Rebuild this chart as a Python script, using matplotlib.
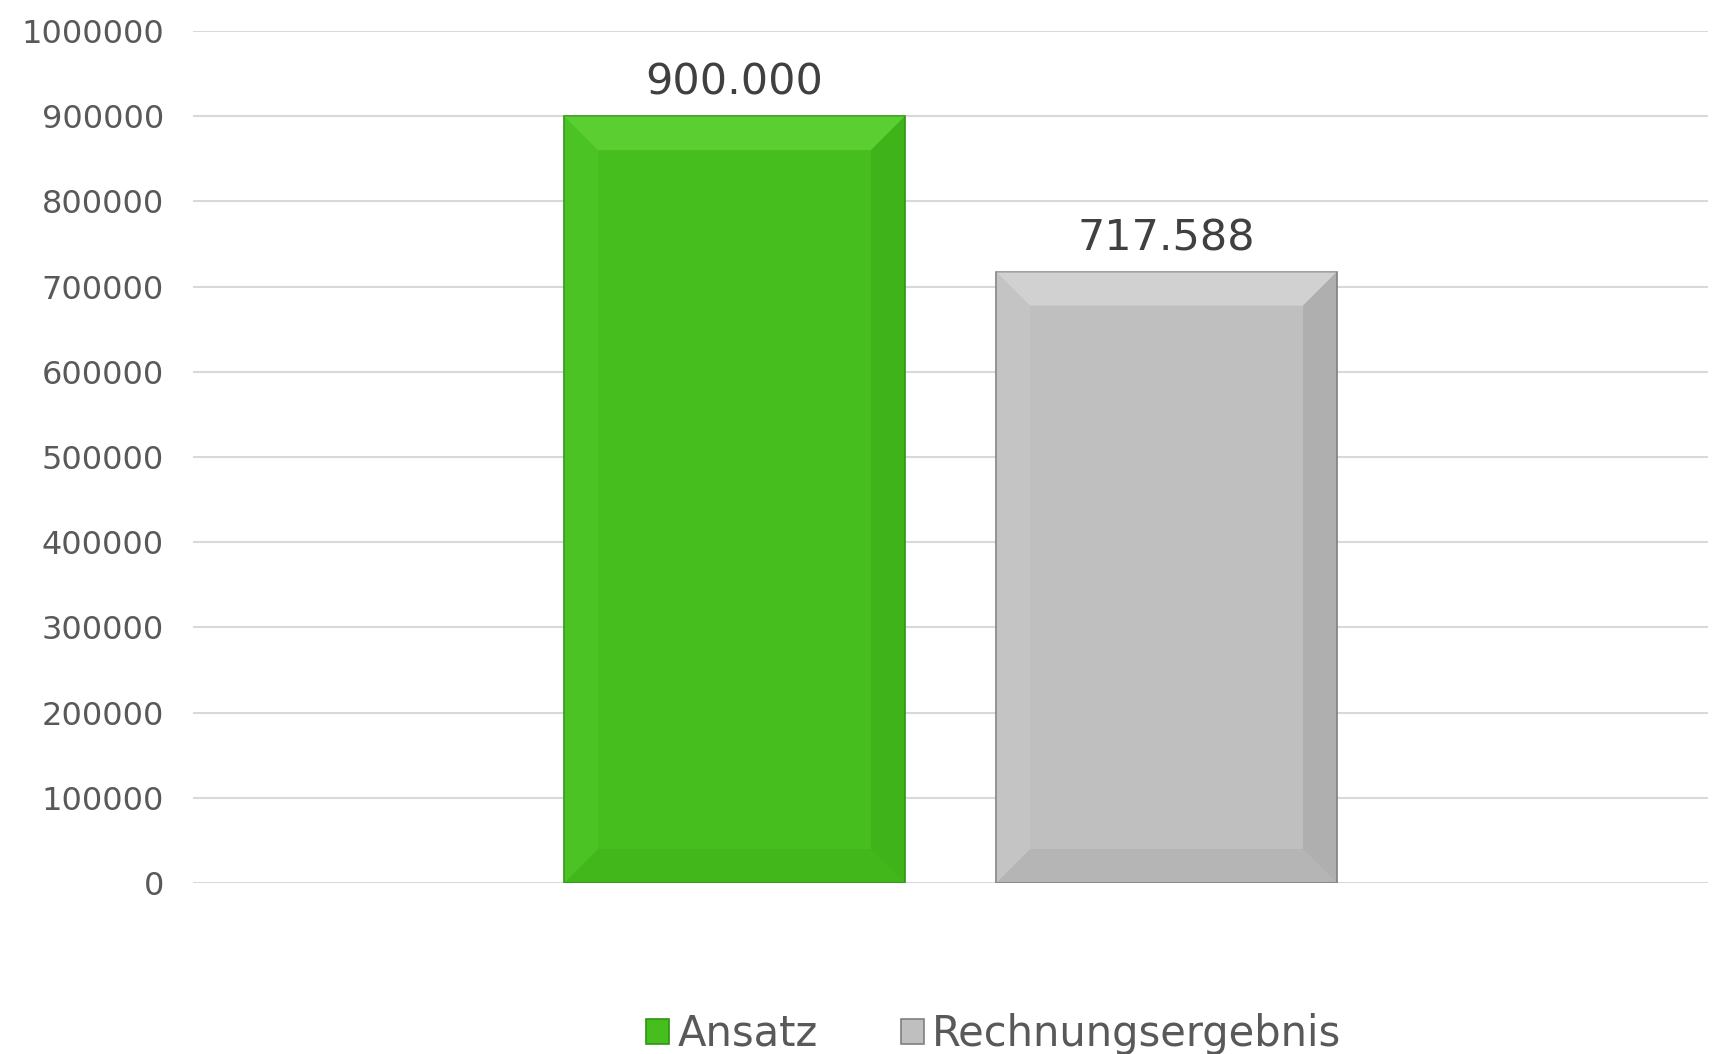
import matplotlib.pyplot as plt
from matplotlib.patches import Polygon

# data
series = ["Ansatz", "Rechnungsergebnis"]
values = [900000, 717588]
labels = ["900.000", "717.588"]
colors = ["#45BE1E", "#BFBFBF"]
light = ["#7DEA52", "#EDEDED"]
dark = ["#2F9412", "#808080"]
yticks = [0, 100000, 200000, 300000, 400000, 500000, 600000, 700000, 800000, 900000, 1000000]

fig = plt.figure(figsize=(17.28, 10.54), dpi=100)
ax = fig.add_axes([0.1117, 0.1622, 0.8767, 0.8084])

width = 0.225
offsets = [-0.1426, 0.1426]
bars = []
for off, val, col, edge, name in zip(offsets, values, colors, dark, series):
    b = ax.bar(off, val, width=width, color=col, edgecolor=edge, linewidth=1.2,
               label=name, zorder=3)
    bars.append(b[0])

ax.set_xlim(-0.5, 0.5)
ax.set_ylim(0, 1000000)
ax.set_yticks(yticks)
ax.set_yticklabels([str(v) for v in yticks])
ax.set_xticks([])
ax.tick_params(axis="y", length=0, pad=21, labelsize=23, labelcolor="#595959")
for s in ax.spines.values():
    s.set_visible(False)
ax.grid(axis="y", color="#D9D9D9", linewidth=1.5, zorder=0)

# bevel look: lighter top, darker right/bottom
fig.canvas.draw()
inv = ax.transData.inverted()
bev = 34  # pixels
for patch, lt, dk in zip(bars, light, dark):
    x0, y0 = patch.get_x(), patch.get_y()
    x1, y1 = x0 + patch.get_width(), y0 + patch.get_height()
    p0 = ax.transData.transform((x0, y0))
    p1 = ax.transData.transform((x1, y1))
    q0 = inv.transform((p0[0] + bev, p0[1] + bev))
    q1 = inv.transform((p1[0] - bev, p1[1] - bev))
    top = [(x0, y1), (x1, y1), (q1[0], q1[1]), (q0[0], q1[1])]
    bottom = [(x0, y0), (x1, y0), (q1[0], q0[1]), (q0[0], q0[1])]
    right = [(x1, y0), (x1, y1), (q1[0], q1[1]), (q1[0], q0[1])]
    left = [(x0, y0), (x0, y1), (q0[0], q1[1]), (q0[0], q0[1])]
    ax.add_patch(Polygon(top, closed=True, facecolor=lt, alpha=0.4, lw=0, zorder=4))
    ax.add_patch(Polygon(bottom, closed=True, facecolor=dk, alpha=0.15, lw=0, zorder=4))
    ax.add_patch(Polygon(right, closed=True, facecolor=dk, alpha=0.25, lw=0, zorder=4))
    ax.add_patch(Polygon(left, closed=True, facecolor=lt, alpha=0.12, lw=0, zorder=4))

for patch, lab in zip(bars, labels):
    ax.annotate(lab, xy=(patch.get_x() + patch.get_width() / 2, patch.get_height()),
                xytext=(0, 24), textcoords="offset points", ha="center", va="center",
                fontsize=31, color="#404040")

fig.legend(loc="center", bbox_to_anchor=(0.575, 0.019), ncol=2, frameon=False,
           fontsize=30, labelcolor="#595959", handlelength=0.55, handleheight=0.55,
           handletextpad=0.2, columnspacing=2.0)

plt.savefig("out.png", dpi=100)
